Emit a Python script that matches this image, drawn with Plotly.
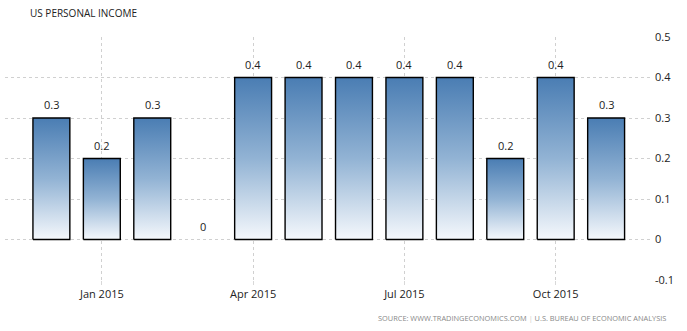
import plotly.graph_objects as go

months = ["Dec 2014", "Jan 2015", "Feb 2015", "Mar 2015", "Apr 2015", "May 2015",
          "Jun 2015", "Jul 2015", "Aug 2015", "Sep 2015", "Oct 2015", "Nov 2015"]
values = [0.3, 0.2, 0.3, 0.0, 0.4, 0.4, 0.4, 0.4, 0.4, 0.2, 0.4, 0.3]
tick_labels = ["Jan 2015", "Apr 2015", "Jul 2015", "Oct 2015"]
y_ticks = [-0.1, 0, 0.1, 0.2, 0.3, 0.4, 0.5]
y_tick_text = ["-0.1", "0", "0.1", "0.2", "0.3", "0.4", "0.5"]

FONT = "Open Sans"
TOP = "#4a7db3"
MID = "#92b3d4"
BOTTOM = "#f5f8fc"
half = 0.366

fig = go.Figure()
idx = list(range(len(months)))
for i, v in zip(idx, values):
    if v == 0:
        continue
    fig.add_trace(go.Scatter(
        x=[i - half, i - half, i + half, i + half, i - half],
        y=[0, v, v, 0, 0],
        mode="lines", fill="toself",
        line=dict(color="black", width=1.4),
        fillgradient=dict(type="vertical", colorscale=[[0, BOTTOM], [0.5, MID], [1, TOP]],
                          start=0, stop=v),
        hoverinfo="skip", showlegend=False))

annots = []
for i, v in zip(idx, values):
    annots.append(dict(x=i, y=v, xref="x", yref="y", text=f"{v:g}", showarrow=False,
                       xanchor="center", yanchor="bottom", yshift=4,
                       font=dict(family=FONT, size=11, color="#222")))

tick_pos = [months.index(t) for t in tick_labels]

pw = 687 - 5 - 37
ph = 331 - 37 - 51

annots.append(dict(text="US PERSONAL INCOME", x=(28 - 5) / pw, y=(331 - 13 - 51) / ph,
                   xref="paper", yref="paper", showarrow=False, xanchor="left", yanchor="middle",
                   font=dict(family=FONT, size=10, color="#222")))
annots.append(dict(text="SOURCE: WWW.TRADINGECONOMICS.COM <span style='color:#ccc'>|</span> U.S. BUREAU OF ECONOMIC ANALYSIS",
                   x=(668 - 5) / pw, y=-(318 - 280) / ph, xref="paper", yref="paper", showarrow=False,
                   xanchor="right", yanchor="middle",
                   font=dict(family=FONT, size=7.4, color="#888")))

fig.update_layout(
    width=687, height=331,
    margin=dict(l=5, r=37, t=37, b=51),
    paper_bgcolor="white", plot_bgcolor="white",
    font=dict(family=FONT, size=11, color="#222"),
    xaxis=dict(range=[-0.92, 11.87], tickvals=tick_pos, ticktext=tick_labels,
               showgrid=True, gridcolor="#d0d0d0", griddash="dot", gridwidth=1,
               ticks="outside", ticklen=4, tickcolor="#d8d8d8",
               zeroline=False, showline=False, fixedrange=True,
               tickfont=dict(family=FONT, size=11, color="#222")),
    yaxis=dict(range=[-0.1, 0.5], side="right", tickvals=y_ticks, ticktext=y_tick_text,
               showgrid=True, gridcolor="#d0d0d0", griddash="dot", gridwidth=1,
               zeroline=False, showline=False, ticks="", ticklabelstandoff=4,
               tickfont=dict(family=FONT, size=11, color="#222")),
    annotations=annots,
)

fig.write_html("out.html")
